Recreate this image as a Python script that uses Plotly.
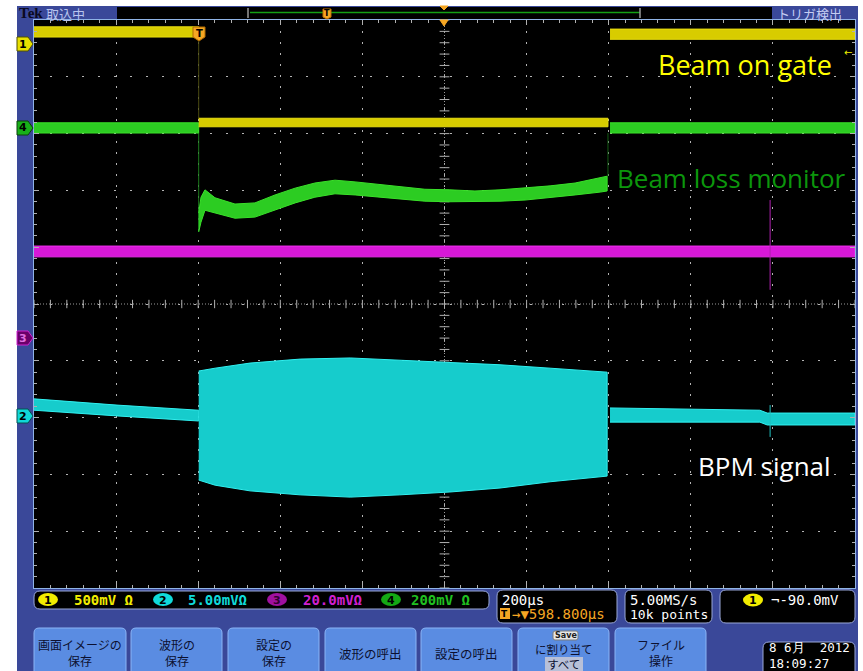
import numpy as np
import plotly.graph_objects as go

# ---------------- data: time in µs relative to trigger, amplitude in screen divisions
T_START, T_END = -401.2, 1598.8          # 200 µs/div, trigger offset 598.8 µs
T_CENTER = 598.8
GATE_OPEN, GATE_CLOSE = 0.0, 997.0

# CH1 (yellow) beam-on gate
ch1_pre_t = [T_START, GATE_OPEN]
ch1_pre_hi = [4.88, 4.88]
ch1_pre_lo = [4.70, 4.70]
ch1_on_t = [GATE_OPEN, GATE_CLOSE]
ch1_on_hi = [3.27, 3.27]
ch1_on_lo = [3.12, 3.12]
ch1_post_t = [1002.0, T_END]
ch1_post_hi = [4.84, 4.84]
ch1_post_lo = [4.66, 4.66]

# CH4 (green) beam loss monitor
ch4_pre_t = [T_START, GATE_OPEN]
ch4_pre_hi = [3.19, 3.19]
ch4_pre_lo = [3.01, 3.01]
ch4_beam_t = [0, 5.6, 15.3, 39.7, 88.4, 137, 186, 235, 283, 332, 381, 429,
              490, 551, 612, 673, 734, 795, 856, 917, 978, 995]
ch4_beam_hi = [1.60, 1.88, 2.01, 1.87, 1.76, 1.78, 1.92, 2.04, 2.13, 2.18, 2.15, 2.11,
               2.06, 2.02, 2.01, 1.99, 2.01, 2.04, 2.08, 2.13, 2.22, 2.25]
ch4_beam_lo = [1.27, 1.44, 1.65, 1.60, 1.51, 1.53, 1.65, 1.78, 1.88, 1.94, 1.92, 1.88,
               1.85, 1.81, 1.80, 1.80, 1.81, 1.83, 1.87, 1.92, 1.97, 1.99]
ch4_post_t = [1002.0, T_END]
ch4_post_hi = [3.19, 3.19]
ch4_post_lo = [3.01, 3.01]

# CH3 (magenta)
ch3_t = [T_START, T_END]
ch3_hi = [1.02, 1.02]
ch3_lo = [0.83, 0.83]
ch3_spike_t = [1392, 1392]
ch3_spike_v = [0.25, 1.83]

# CH2 (cyan) BPM signal
ch2_pre_t = [T_START, -199, 0]
ch2_pre_hi = [-1.67, -1.78, -1.87]
ch2_pre_lo = [-1.87, -1.97, -2.06]
ch2_beam_t = [0, 40, 125, 247, 369, 490, 612, 734, 856, 995]
ch2_beam_hi = [-1.18, -1.13, -1.04, -0.97, -0.95, -0.99, -1.02, -1.07, -1.13, -1.20]
ch2_beam_lo = [-3.10, -3.19, -3.29, -3.36, -3.40, -3.36, -3.31, -3.24, -3.13, -3.03]
ch2_post_t = [1002, 1367, 1385, T_END]
ch2_post_hi = [-1.83, -1.87, -1.92, -1.92]
ch2_post_lo = [-2.08, -2.08, -2.13, -2.13]
ch2_spike_t = [1392, 1392]
ch2_spike_v = [-2.34, -1.78]

# labels
ch_scales = ["500mV Ω", "5.00mVΩ", "20.0mVΩ", "200mV Ω"]
buttons = [["画面イメージの", "保存"], ["波形の", "保存"], ["設定の", "保存"],
           ["波形の呼出"], ["設定の呼出"], ["に割り当て", "すべて"], ["ファイル", "操作"]]

# ---------------- layout helpers (pixel -> paper)
W, H = 863, 671
L, R, T, B = 34, 855, 20, 588


def px(x):
    return (x - L) / (R - L)


def py(y):
    return (B - y) / (B - T)


shapes, annos = [], []

FRAME = '#3a4899'
BTN = '#5a8ce2'
BORDER = '#8fb3e6'
MONO = 'DejaVu Sans Mono'
CJK = 'Noto Sans CJK JP'
ORANGE = '#f5a623'


def rect(x0, y0, x1, y1, fill, line=None, lw=0, layer='below'):
    shapes.append(dict(type='rect', xref='paper', yref='paper', x0=px(x0), x1=px(x1),
                       y0=py(y1), y1=py(y0), fillcolor=fill,
                       line=dict(color=line or fill, width=lw), layer=layer))


def rrect(x0, y0, x1, y1, r, fill, line=None, lw=0, layer='below', top_only=False):
    X0, X1, Yt, Yb = px(x0), px(x1), py(y0), py(y1)
    rx, ry = r / (R - L), r / (B - T)
    if top_only:
        p = (f"M{X0},{Yb} L{X0},{Yt-ry} Q{X0},{Yt} {X0+rx},{Yt} L{X1-rx},{Yt} "
             f"Q{X1},{Yt} {X1},{Yt-ry} L{X1},{Yb} Z")
    else:
        p = (f"M{X0+rx},{Yt} L{X1-rx},{Yt} Q{X1},{Yt} {X1},{Yt-ry} L{X1},{Yb+ry} "
             f"Q{X1},{Yb} {X1-rx},{Yb} L{X0+rx},{Yb} Q{X0},{Yb} {X0},{Yb+ry} "
             f"L{X0},{Yt-ry} Q{X0},{Yt} {X0+rx},{Yt} Z")
    shapes.append(dict(type='path', xref='paper', yref='paper', path=p, fillcolor=fill,
                       line=dict(color=line or fill, width=lw), layer=layer))


def ellipse(cx, cy, rx, ry, fill, line=None, lw=0, layer='above'):
    shapes.append(dict(type='circle', xref='paper', yref='paper', x0=px(cx - rx), x1=px(cx + rx),
                       y0=py(cy + ry), y1=py(cy - ry), fillcolor=fill,
                       line=dict(color=line or fill, width=lw), layer=layer))


def line(x0, y0, x1, y1, color, lw=1, layer='above'):
    shapes.append(dict(type='line', xref='paper', yref='paper', x0=px(x0), x1=px(x1),
                       y0=py(y0), y1=py(y1), line=dict(color=color, width=lw), layer=layer))


def poly(pts, fill, line_c=None, lw=1, layer='above'):
    p = "M" + " L".join(f"{px(a)},{py(b)}" for a, b in pts) + " Z"
    shapes.append(dict(type='path', xref='paper', yref='paper', path=p, fillcolor=fill,
                       line=dict(color=line_c or fill, width=lw), layer=layer))


def text(x, y, s, size, color, family=MONO, anchor='center', bg=None, align='center'):
    a = dict(xref='paper', yref='paper', x=px(x), y=py(y), text=s, showarrow=False,
             xanchor=anchor, yanchor='middle', font=dict(size=size, color=color, family=family),
             borderpad=0, align=align)
    if bg:
        a['bgcolor'] = bg
    annos.append(a)


# frame strips around the black screen (plot background is black)
rect(17, 6, 858, T, FRAME)
rect(17, B, 858, 671, FRAME)
rect(17, T, L, B, FRAME)
rect(R, T, 858, B, FRAME)

# header
rect(117, 7, 772, 19, 'black')
line(250, 12.5, 640, 12.5, '#14a014', 1.5)
line(248, 8, 248, 18, '#9a9a9a', 1.5)
line(640, 8, 640, 18, '#9a9a9a', 1.5)
poly([(323, 9), (331, 9), (331, 17), (327, 19), (323, 17)], ORANGE, '#c07000')
text(327, 13.5, "<b>T</b>", 8, 'black', 'DejaVu Sans')
poly([(440, 6), (448, 6), (444, 10)], ORANGE)
text(18, 13, "<b>Tek</b>", 15, '#0a0a20', 'Liberation Serif', anchor='left')
text(45, 13, "取込中", 13, '#b8c4ee', CJK, anchor='left')
text(776, 13, "トリガ検出", 13, '#c4ccf2', CJK, anchor='left')

# trigger markers inside screen
poly([(440, 20), (448, 20), (444, 26)], ORANGE)
poly([(193, 27), (205, 27), (205, 37), (199, 41), (193, 37)], ORANGE, '#b06a00')
text(199, 33, "<b>T</b>", 10, 'black', 'DejaVu Sans')
text(848, 53, "←", 10, '#f0f000', 'DejaVu Sans')

# channel ground tags at left
tags = [("1", 44, '#e8e000', '#505000', 'black'),
        ("4", 128, '#18b018', '#0a400a', 'black'),
        ("3", 338, '#6a006a', '#d020d0', '#e070e0'),
        ("2", 416, '#10d8d8', '#055050', 'black')]
for lab, yc, fc, lc, tc in tags:
    poly([(17, yc - 7), (28, yc - 7), (33, yc), (28, yc + 7), (17, yc + 7)], fc, lc, 1)
    text(23, yc, f"<b>{lab}</b>", 11, tc, 'DejaVu Sans')

# status bar boxes
rrect(34, 591, 489, 609, 6, 'black', '#9aa8d8', 1)
rrect(497, 590, 617, 623, 6, 'black', '#9aa8d8', 1)
rrect(625, 590, 712, 623, 6, 'black', '#9aa8d8', 1)
rrect(720, 590, 855, 623, 6, 'black', '#9aa8d8', 1)

circ = [(48, '#f2ec00', 'black', "1"), (163, '#10dada', 'black', "2"),
        (277, '#a010a0', '#300030', "3"), (391, '#14a814', 'black', "4")]
txt_x = [73, 187, 302, 410]
txt_c = ['#f2ec00', '#10dada', '#d020d0', '#20c020']
for i, (cx, fc, tc, num) in enumerate(circ):
    ellipse(cx, 599.5, 10, 6.5, fc)
    text(cx, 600, f"<b>{num}</b>", 11, tc, 'DejaVu Sans')
    text(txt_x[i], 600, f"<b>{ch_scales[i]}</b>", 14, txt_c[i], MONO, anchor='left')

text(501, 600, "200µs", 14, 'white', MONO, anchor='left')
rect(500, 608, 510, 619, ORANGE, layer='above')
text(505, 613.5, "<b>T</b>", 9, 'black', 'DejaVu Sans')
text(511, 614, "→▼598.800µs", 14, ORANGE, MONO, anchor='left')
text(629, 600, "5.00MS/s", 14, 'white', MONO, anchor='left')
text(629, 614, "10k points", 13, 'white', MONO, anchor='left')
ellipse(753, 600, 10, 6.5, '#f2ec00')
text(753, 600.5, "<b>1</b>", 11, 'black', 'DejaVu Sans')
text(770, 600, "¬-90.0mV", 14, 'white', MONO, anchor='left')

# buttons
btn_x = [(34, 126), (131, 222), (228, 319), (325, 416), (421, 512), (518, 609), (615, 706)]
for (x0, x1), lab in zip(btn_x, buttons):
    rrect(x0, 628, x1, 680, 5, BTN, '#8ab4f6', 1, top_only=True)
    cx = (x0 + x1) / 2
    if len(lab) == 1:
        text(cx, 653, lab[0], 12.5, '#0c1030', CJK)
    elif lab[0] == "に割り当て":
        rrect(553, 631, 578, 640, 2, '#e6e6e6', '#7a7a7a', 1, layer='above')
        text(565.5, 635.5, "<b>Save</b>", 8, '#202020', 'DejaVu Sans')
        rect(545, 657, 583, 675, '#b8c0d8', layer='above')
        text(cx, 656, lab[0] + "<br>" + lab[1], 11.5, '#0c1030', CJK)
    else:
        text(cx, 652, lab[0] + "<br>" + lab[1], 12, '#0c1030', CJK)

# date box
rrect(763, 642, 855, 690, 6, 'black', '#9aa8d8', 1)
text(768, 655, "8\u00a06月\u00a0\u00a02012<br>18:09:27", 12.5, 'white', MONO, anchor='left',
     align='left')

# overlay text labels
text(745, 65, "Beam on gate", 27, '#ffff00', 'Open Sans')
text(731, 178, "Beam loss monitor", 26, '#0c960c', 'Open Sans')
text(764, 466, "BPM signal", 26, 'white', 'Open Sans')

# ---------------- traces
fig = go.Figure()


def band(t, hi, lo, edge, fill):
    xs = list(t) + list(t)[::-1]
    ys = list(hi) + list(lo)[::-1]
    fig.add_trace(go.Scatter(x=xs, y=ys, mode='lines', fill='toself', fillcolor=fill,
                             line=dict(color=edge, width=1), hoverinfo='skip', showlegend=False))


def vline_trace(t, v, color, w=1, dash=None):
    fig.add_trace(go.Scatter(x=t, y=v, mode='lines', line=dict(color=color, width=w, dash=dash),
                             hoverinfo='skip', showlegend=False))


# centre cross dense dots and minor ticks
vline_trace([T_START, T_END], [0, 0], '#9a9a9a', dash='1px,2px')
vline_trace([T_CENTER, T_CENTER], [-5, 5], '#9a9a9a', dash='1px,2px')
mx = np.arange(T_START, T_END + 1e-6, 40.0)
fig.add_trace(go.Scatter(x=mx, y=np.zeros_like(mx), mode='markers', hoverinfo='skip',
                         marker=dict(symbol='line-ns', size=6, line=dict(color='#b0b0b0', width=1)),
                         showlegend=False))
my = np.arange(-5, 5.0001, 0.2)
fig.add_trace(go.Scatter(x=np.full_like(my, T_CENTER), y=my, mode='markers', hoverinfo='skip',
                         marker=dict(symbol='line-ew', size=7, line=dict(color='#b0b0b0', width=1)),
                         showlegend=False))

YEL, YEL_F = '#e8dc10', '#d8cc00'
GRN, GRN_F = '#3ae02a', '#2ccc22'
MAG, MAG_F = '#ee30ee', '#d818d8'
CYA, CYA_F = '#30f0f0', '#16cccc'

# transitions
vline_trace([GATE_OPEN, GATE_OPEN], [ch4_pre_lo[0], ch4_beam_lo[0]], '#1c7a1c')
vline_trace([GATE_OPEN, GATE_OPEN], [ch1_pre_lo[0], ch1_on_hi[0]], '#4a4a10')
vline_trace([GATE_CLOSE, GATE_CLOSE], [ch4_post_lo[0], ch4_beam_hi[-1]], '#145a14')

band(ch3_t, ch3_hi, ch3_lo, MAG, MAG_F)
vline_trace(ch3_spike_t, ch3_spike_v, '#b020b0')
band(ch4_pre_t, ch4_pre_hi, ch4_pre_lo, GRN, GRN_F)
band(ch4_beam_t, ch4_beam_hi, ch4_beam_lo, GRN, GRN_F)
band(ch4_post_t, ch4_post_hi, ch4_post_lo, GRN, GRN_F)
band(ch1_pre_t, ch1_pre_hi, ch1_pre_lo, YEL, YEL_F)
band(ch1_on_t, ch1_on_hi, ch1_on_lo, YEL, YEL_F)
band(ch1_post_t, ch1_post_hi, ch1_post_lo, YEL, YEL_F)
band(ch2_pre_t, ch2_pre_hi, ch2_pre_lo, CYA, CYA_F)
band(ch2_beam_t, ch2_beam_hi, ch2_beam_lo, CYA, CYA_F)
band(ch2_post_t, ch2_post_hi, ch2_post_lo, CYA, CYA_F)
vline_trace(ch2_spike_t, ch2_spike_v, '#20c0c0')

axis_common = dict(showticklabels=False, showgrid=True, gridcolor='#b4b4b4', gridwidth=1,
                   zeroline=False, showline=True, linecolor=BORDER, linewidth=1, mirror='allticks',
                   ticks='inside', ticklen=5, tickcolor='#b0b0b0', tickwidth=1, fixedrange=True)

fig.update_layout(
    width=W, height=H,
    margin=dict(l=L, r=W - R, t=T, b=H - B, pad=0),
    paper_bgcolor='white', plot_bgcolor='black',
    showlegend=False,
    xaxis=dict(range=[T_START, T_END], tick0=T_START, dtick=200, griddash='2px,9px',
               minor=dict(ticks='inside', ticklen=3, dtick=40, tick0=T_START, tickcolor='#b0b0b0',
                          showgrid=False),
               **axis_common),
    yaxis=dict(range=[-5, 5], tick0=-5, dtick=1, griddash='2px,14px',
               minor=dict(ticks='inside', ticklen=3, dtick=0.2, tick0=-5, tickcolor='#b0b0b0',
                          showgrid=False),
               **axis_common),
    shapes=shapes, annotations=annos,
)

fig.write_html("out.html", config={'displayModeBar': False},
               post_script="document.body.style.margin='0';")
